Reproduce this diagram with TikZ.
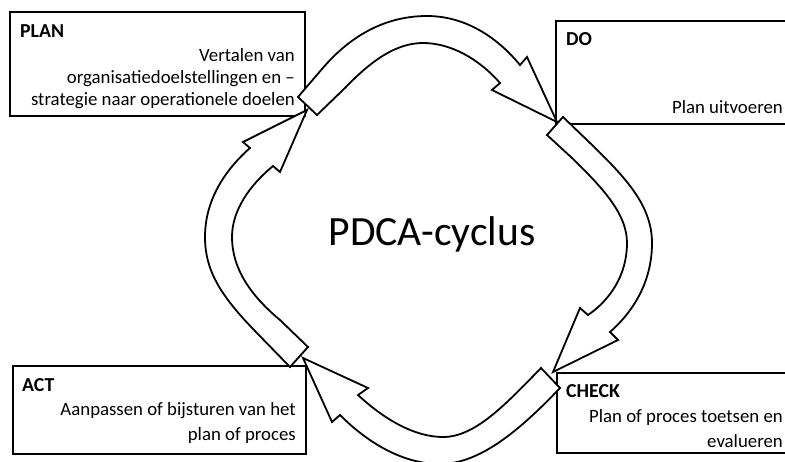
\documentclass[tikz,border=0pt]{standalone}
\usepackage{fontspec}
\setmainfont{Carlito}
\tikzset{
  box/.style={draw=black, line width=1.8pt, fill=white, rectangle, inner sep=0pt},
  txt/.style={inner sep=0pt, font=\fontsize{18.8}{22}\selectfont},
  head/.style={inner sep=0pt, font=\fontsize{19.8}{22}\selectfont\bfseries},
  blockarrow/.style={draw=black, line width=1.8pt, fill=white, line join=miter},
}
\begin{document}
\begin{tikzpicture}[x=1pt,y=-1pt]
\path[use as bounding box] (0,0) rectangle (785,461);
\clip (0,0) rectangle (785,461);
% boxes
\node[box, minimum width=295pt, minimum height=104pt] (plan) at (157.5,64) {};
\node[box, minimum width=260pt, minimum height=103pt] (do) at (686,72.5) {};
\node[box, minimum width=293pt, minimum height=88pt] (act) at (159.5,410) {};
\node[box, minimum width=260pt, minimum height=80pt] (check) at (687,413) {};
% texts
\node[head, anchor=base west] (planh) at (20,37) {PLAN};
\node[txt, anchor=base east] (plan1) at (295,61) {Vertalen van};
\node[txt, anchor=base east] (plan2) at (295,83) {organisatiedoelstellingen en –};
\node[txt, anchor=base east] (plan3) at (295,105) {strategie naar operationele doelen};
\node[head, anchor=base west] (doh) at (566,45) {DO};
\node[txt, anchor=base east] (do1) at (783,113) {Plan uitvoeren};
\node[head, anchor=base west] (acth) at (22,391) {ACT};
\node[txt, anchor=base east] (act1) at (296,415) {Aanpassen of bijsturen van het};
\node[txt, anchor=base east] (act2) at (296,440) {plan of proces};
\node[head, anchor=base west] (checkh) at (566,397) {CHECK};
\node[txt, anchor=base east] (check1) at (783,422) {Plan of proces toetsen en};
\node[txt, anchor=base east] (check2) at (783,447) {evalueren};
\node[inner sep=0pt, anchor=base, font=\fontsize{41.6}{48}\selectfont] (title) at (432,245) {PDCA-cyclus};
% arrow PLAN -> DO
\path[blockarrow] (298,97) -- (322,69) .. controls (350,36) and (385,16) .. (427,16)
  .. controls (465,16) and (497,37) .. (520,65) -- (527,57) -- (557,122) -- (492,90) -- (500,83)
  .. controls (478,58) and (450,43) .. (423,43) .. controls (395,43) and (370,62) .. (345,88)
  -- (317,115) -- cycle;
% arrow DO -> CHECK
\path[blockarrow] (563,117) -- (590,143) .. controls (625,177) and (652,205) .. (652,243)
  .. controls (652,280) and (635,310) .. (610,332) -- (618,340) -- (553,372) -- (580,308) -- (588,315)
  .. controls (610,300) and (627,275) .. (627,243) .. controls (627,215) and (605,190) .. (572,158)
  -- (547,135) -- cycle;
% arrow CHECK -> ACT
\path[blockarrow] (560,388) -- (541,368) .. controls (505,405) and (475,437) .. (443,437)
  .. controls (415,437) and (385,420) .. (358,395) -- (368,388) -- (303,358) -- (332,422) -- (340,415)
  .. controls (370,445) and (405,464) .. (440,464) .. controls (480,464) and (520,430) .. (560,388)
  -- cycle;
% arrow ACT -> PLAN
\path[blockarrow] (290,367) -- (255,331) .. controls (220,295) and (205,270) .. (205,237)
  .. controls (205,200) and (225,170) .. (250,148) -- (243,142) -- (307,110) -- (280,172) -- (273,166)
  .. controls (250,185) and (232,210) .. (232,237) .. controls (232,268) and (250,295) .. (280,320)
  -- (308,347) -- cycle;
\end{tikzpicture}
\end{document}
